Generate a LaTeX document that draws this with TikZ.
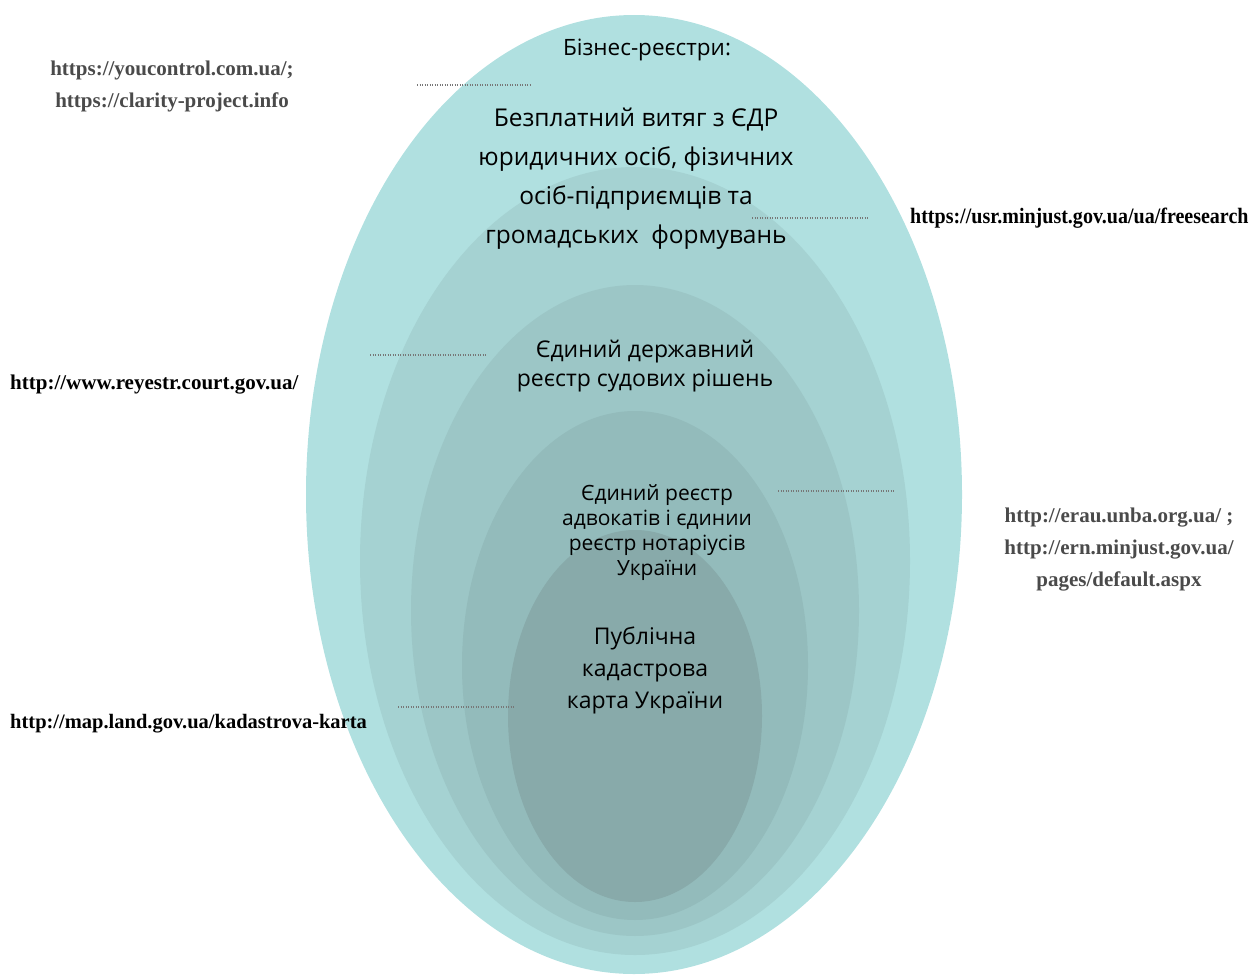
\documentclass[tikz,border=0pt]{standalone}
\usepackage{fontspec}
\setmainfont{Liberation Serif}
\newfontfamily\lblfont{Open Sans}
\usetikzlibrary{calc}
\definecolor{ringA}{HTML}{B0E0E0}
\definecolor{ringB}{HTML}{A5D2D2}
\definecolor{ringC}{HTML}{9CC6C6}
\definecolor{ringD}{HTML}{93BBBB}
\definecolor{ringE}{HTML}{88AAAA}
\definecolor{urlgray}{HTML}{4A4A4A}
\definecolor{leadgray}{HTML}{777777}

\tikzset{
  leader/.style={leadgray, line width=1.8pt, dash pattern=on 1pt off 1.5pt},
  urltext/.style={font=\bfseries\fontsize{21}{32}\selectfont, inner sep=0pt},
  ringtext/.style={align=center, inner sep=0pt, text=black}
}

\begin{document}
\begin{tikzpicture}[x=1pt,y=-1pt]
    \useasboundingbox (0,0) rectangle (1252,974);
    % nested registers
    \fill[ringA] (634,494.5) ellipse (328 and 479.5);
    \fill[ringB] (635,561) ellipse (275 and 394);
    \fill[ringC] (635,610.5) ellipse (224 and 325.5);
    \fill[ringD] (635,665.5) ellipse (173 and 254.5);
    \fill[ringE] (635,716) ellipse (127 and 186);

    \node (biz) at (647,50) [ringtext, font=\lblfont\fontsize{22.5}{24}\selectfont] {Бізнес-реєстри:};
    \node (edr) at (636,179) [ringtext, font=\lblfont\fontsize{24.5}{39}\selectfont]
        {Безплатний витяг з ЄДР\\юридичних осіб, фізичних\\осіб-підприємців та\\громадських~ формувань};
    \node (court) at (645,366) [ringtext, font=\lblfont\fontsize{23}{29}\selectfont]
        {Єдиний державний\\реєстр судових рішень};
    \node (lawyers) at (657,533) [ringtext, font=\lblfont\fontsize{21}{25}\selectfont]
        {Єдиний реєстр\\адвокатів і єдинии\\реєстр нотаріусів\\України};
    \node (cadastre) at (645,670) [ringtext, font=\lblfont\fontsize{23}{32}\selectfont]
        {Публічна\\кадастрова\\карта України};

    % links
    \node (youctrl) at (172,86) [urltext, align=center, text=urlgray]
        {https://youcontrol.com.ua/;\\https://clarity-project.info};
    \node (usr) at (910,218) [urltext, anchor=west, font=\bfseries\fontsize{22}{24}\selectfont, xscale=0.91, text=black] {https://usr.minjust.gov.ua/ua/freesearch};
    \node (courturl) at (10,385) [urltext, anchor=west, text=black] {http://www.reyestr.court.gov.ua/};
    \node (erau) at (1119,550) [urltext, align=center, text=urlgray]
        {http://erau.unba.org.ua/ ;\\http://ern.minjust.gov.ua/\\pages/default.aspx};
    \node (mapurl) at (10,724) [urltext, anchor=west, font=\bfseries\fontsize{20.5}{24}\selectfont, text=black] {http://map.land.gov.ua/kadastrova-karta};

    \coordinate (a1) at (417,85);  \coordinate (a2) at (532,85);
    \coordinate (b1) at (752,218); \coordinate (b2) at (868,218);
    \coordinate (c1) at (370,355); \coordinate (c2) at (486,355);
    \coordinate (d1) at (778,491); \coordinate (d2) at (895,491);
    \coordinate (e1) at (398,707); \coordinate (e2) at (514,707);
    \draw[leader] (a1) -- (a2);
    \draw[leader] (b1) -- (b2);
    \draw[leader] (c1) -- (c2);
    \draw[leader] (d1) -- (d2);
    \draw[leader] (e1) -- (e2);
\end{tikzpicture}
\end{document}
